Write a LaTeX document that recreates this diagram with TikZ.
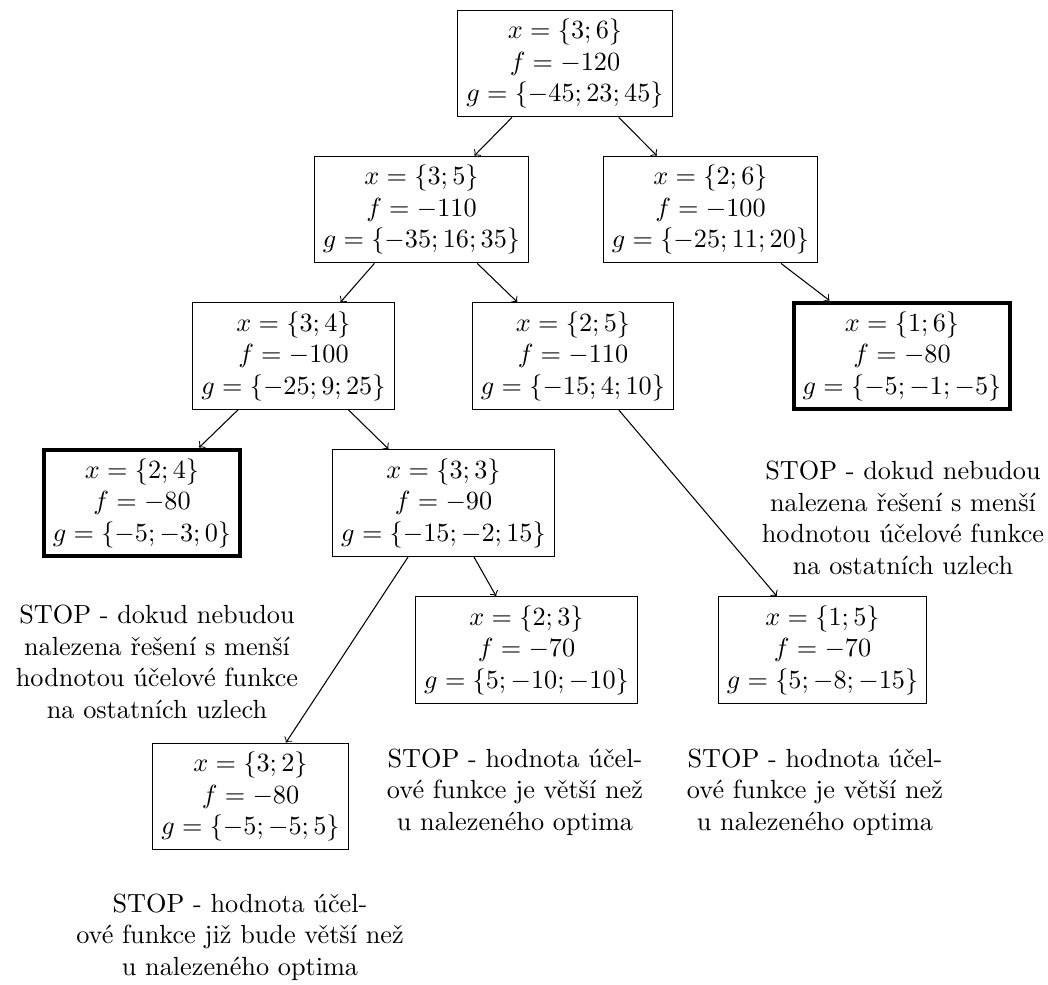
\documentclass[tikz,border=0pt]{standalone}
\usepackage{fontspec}
\begin{document}
\begin{tikzpicture}[x=0.38095pt,y=-0.38095pt,
  box/.style={draw,align=center,inner sep=3.333pt},
  opt/.style={box,ultra thick},
  note/.style={align=center},
  arr/.style={->}]
\useasboundingbox (0,0) rectangle (1048,985);
\node[box] (r) at (565,63.5) {$x=\{3;6\}$\\$f=-120$\\$g=\{-45;23;45\}$};
\node[box] (a) at (421.5,209.5) {$x=\{3;5\}$\\$f=-110$\\$g=\{-35;16;35\}$};
\node[box] (b) at (710.5,209.5) {$x=\{2;6\}$\\$f=-100$\\$g=\{-25;11;20\}$};
\node[box] (c) at (293.5,356) {$x=\{3;4\}$\\$f=-100$\\$g=\{-25;9;25\}$};
\node[box] (d) at (573,356) {$x=\{2;5\}$\\$f=-110$\\$g=\{-15;4;10\}$};
\node[opt] (e) at (902,356) {$x=\{1;6\}$\\$f=-80$\\$g=\{-5;-1;-5\}$};
\node[opt] (f) at (142,503) {$x=\{2;4\}$\\$f=-80$\\$g=\{-5;-3;0\}$};
\node[box] (g) at (443.5,503) {$x=\{3;3\}$\\$f=-90$\\$g=\{-15;-2;15\}$};
\node[box] (h) at (526.5,650) {$x=\{2;3\}$\\$f=-70$\\$g=\{5;-10;-10\}$};
\node[box] (i) at (822.5,650) {$x=\{1;5\}$\\$f=-70$\\$g=\{5;-8;-15\}$};
\node[box] (j) at (250.5,796.5) {$x=\{3;2\}$\\$f=-80$\\$g=\{-5;-5;5\}$};
\node[note] (n1) at (903,518) {STOP - dokud nebudou\\nalezena řešení s menší\\hodnotou účelové funkce\\na ostatních uzlech};
\node[note] (n2) at (157,662) {STOP - dokud nebudou\\nalezena řešení s menší\\hodnotou účelové funkce\\na ostatních uzlech};
\node[note] (n3) at (515,792) {STOP - hodnota účel-\\ové funkce je větší než\\u nalezeného optima};
\node[note] (n4) at (815,792) {STOP - hodnota účel-\\ové funkce je větší než\\u nalezeného optima};
\node[note] (n5) at (240,937) {STOP - hodnota účel-\\ové funkce již bude větší než\\u nalezeného optima};
\draw[arr] (r) -- (a);
\draw[arr] (r) -- (b);
\draw[arr] (a) -- (c);
\draw[arr] (a) -- (d);
\draw[arr] (b) -- (e);
\draw[arr] (c) -- (f);
\draw[arr] (c) -- (g);
\draw[arr] (g) -- (h);
\draw[arr] (g) -- (j);
\draw[arr] (d) -- (i);
\end{tikzpicture}
\end{document}
